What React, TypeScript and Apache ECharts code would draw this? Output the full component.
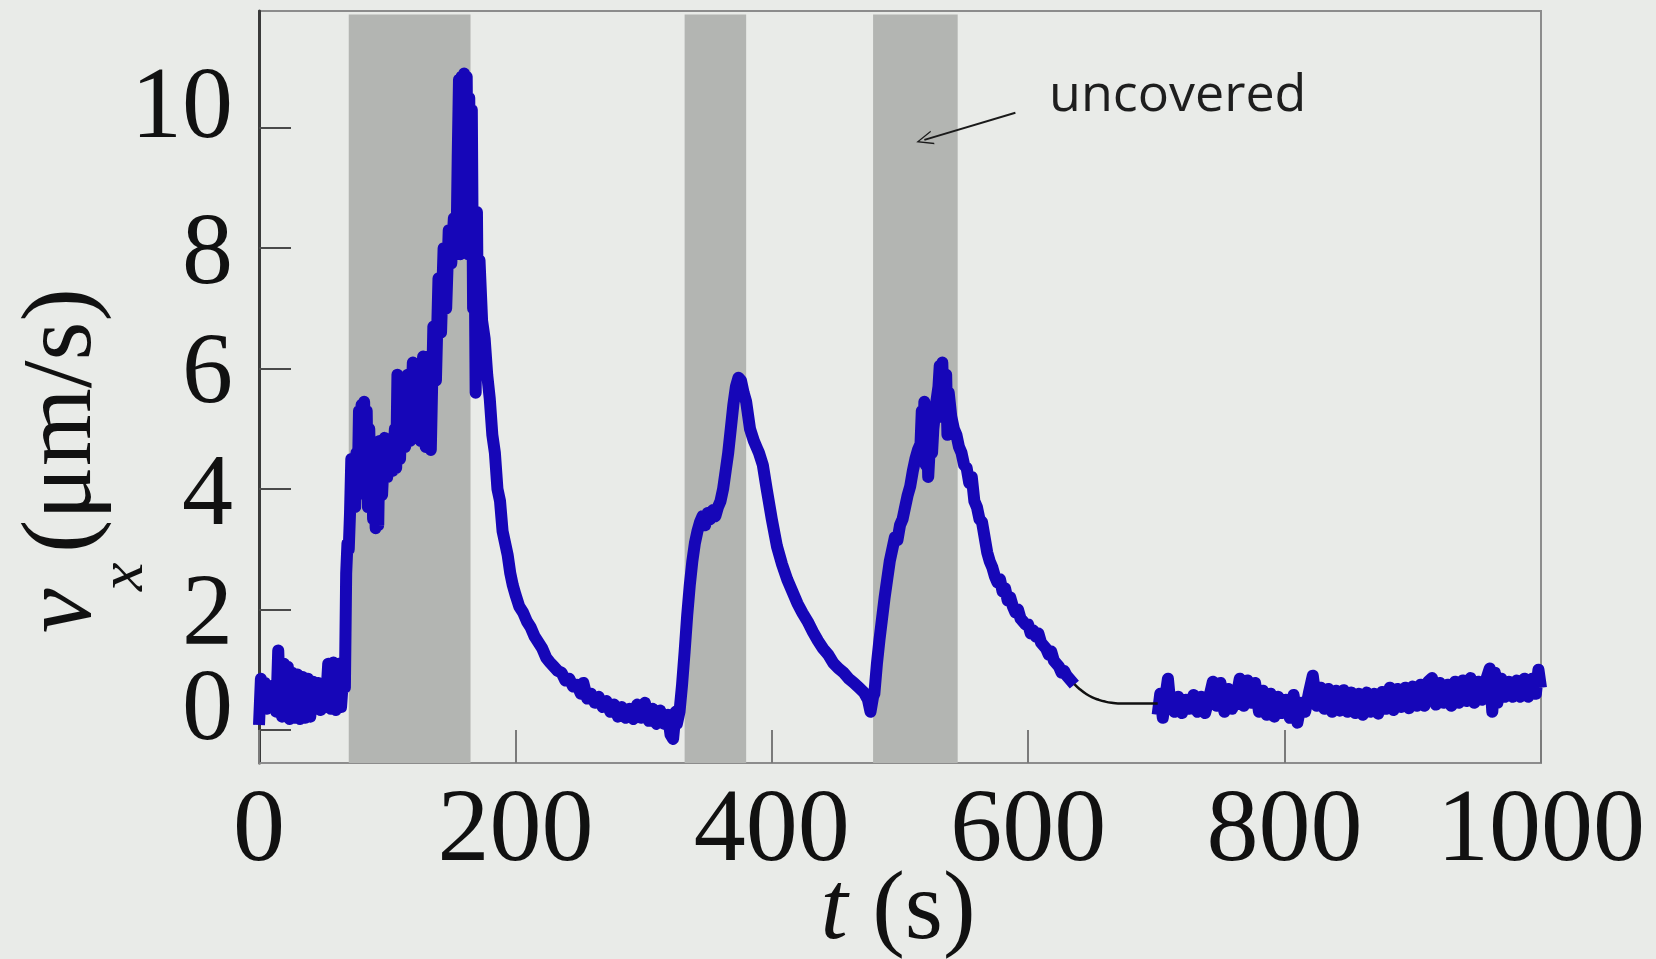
import React, { useEffect, useRef } from "react";
import * as echarts from "echarts";

// ---- data (t in s, v_x in µm/s) ----
const xTicks = [0, 200, 400, 600, 800, 1000];
const yTicks = [0, 2, 4, 6, 8, 10];
const yLabelsMid = [2, 4, 6, 8];
const yLabelsRaised = [0, 10]; // printed slightly above their ticks in the original
const bands: [number, number][] = [
  [70, 165],
  [332, 380],
  [479, 545],
];

const baseline0: [number, number][] = [
  [0, 0.08], [1.5, 0.85], [3, 0.4], [4.5, 0.78], [6, 0.35], [8, 0.72], [10, 0.4], [12, 0.75],
  [13.5, 0.3], [15, 1.32], [16.5, 0.4], [18, 0.22], [19.5, 1.1], [21, 0.25], [22.5, 1.05],
  [24, 0.18], [26, 0.95], [28, 0.2], [30, 0.92], [32, 0.18], [34, 0.88], [36, 0.2], [38, 0.85],
  [40, 0.22], [42, 0.8], [44, 0.35], [46, 0.78], [48, 0.33], [50, 0.75], [52, 0.38], [54, 1.1],
  [56, 0.35], [58, 1.12], [60, 0.33], [62, 1.1], [64, 0.38], [66, 1.0],
];

const pulse1: [number, number][] = [
  [67, 0.7], [68, 2.6], [69, 3.1], [70, 3.0], [71, 3.6], [72, 4.5], [73, 3.8], [74, 4.4],
  [75, 3.7], [76, 4.6], [77, 4.0], [78, 5.3], [79, 4.3], [80, 5.4], [81, 4.0], [82, 5.45],
  [83, 3.9], [84, 5.3], [85, 3.7], [86, 5.0], [87, 4.0], [88, 4.5], [89, 3.5], [90, 4.3],
  [91, 3.35], [92, 4.6], [93, 3.4], [94, 4.8], [96, 3.9], [98, 4.85], [100, 4.2], [102, 4.8],
  [104, 4.3], [106, 5.0], [107, 4.35], [108, 5.9], [110, 4.5], [112, 5.8], [114, 4.7],
  [116, 5.9], [118, 4.8], [120, 6.1], [122, 4.9], [124, 6.0], [126, 4.8], [128, 6.2],
  [130, 4.7], [132, 6.2], [134, 4.65], [136, 6.7], [138, 5.8], [140, 7.5], [142, 6.6],
  [144, 8.0], [146, 7.0], [148, 8.3], [150, 7.75], [152, 8.5], [154, 7.9], [155, 9.5],
  [156, 10.8], [157, 7.9], [158, 10.85], [159, 8.0], [160, 10.9], [161, 8.0], [162, 10.85],
  [163, 7.9], [164, 10.5], [165, 8.2], [166, 10.3], [167, 7.0], [168, 8.6], [169, 5.6],
  [170, 8.6], [171, 6.0], [172, 7.8], [174, 6.8], [176, 6.5], [178, 5.9], [180, 5.5],
  [182, 4.9], [184, 4.6], [186, 4.0], [188, 3.8], [190, 3.3], [192, 3.1], [194, 2.9],
  [196, 2.6], [198, 2.4],
];

const decay1: [number, number][] = [
  [200, 2.25], [203, 2.05], [206, 1.95], [209, 1.8], [212, 1.7], [215, 1.55], [218, 1.45],
  [221, 1.35], [224, 1.2], [227, 1.12], [230, 1.05], [233, 0.98], [236, 0.95], [239, 0.82],
  [242, 0.85], [245, 0.72], [248, 0.75], [251, 0.6], [253, 0.78], [256, 0.52], [259, 0.6],
  [262, 0.45], [265, 0.55], [268, 0.38], [271, 0.48], [274, 0.3], [277, 0.42], [280, 0.22],
  [283, 0.38], [286, 0.2], [289, 0.35], [292, 0.18], [295, 0.42], [298, 0.2], [301, 0.45],
  [304, 0.15], [307, 0.35], [310, 0.1], [313, 0.32], [316, 0.1], [319, 0.25], [321, -0.08],
  [323, -0.15], [325, 0.3], [326, 0.1],
];

const pulse2: [number, number][] = [
  [328, 0.3], [330, 0.75], [332, 1.3], [334, 1.9], [336, 2.4], [338, 2.8], [340, 3.1],
  [342, 3.3], [344, 3.45], [346, 3.55], [348, 3.4], [350, 3.6], [352, 3.5], [354, 3.65],
  [356, 3.55], [358, 3.7], [360, 3.8], [362, 4.0], [364, 4.3], [366, 4.6], [368, 5.0],
  [370, 5.4], [372, 5.7], [374, 5.85], [376, 5.8], [378, 5.6], [380, 5.45], [383, 5.0],
  [386, 4.8], [390, 4.6], [393, 4.4], [396, 4.0], [400, 3.5], [404, 3.05], [408, 2.75],
  [412, 2.5], [416, 2.3], [420, 2.1], [424, 1.94], [428, 1.8], [432, 1.63], [436, 1.48],
  [440, 1.35], [444, 1.25], [448, 1.11], [452, 1.02], [456, 0.95], [460, 0.85], [464, 0.78],
  [468, 0.7], [472, 0.62], [475, 0.5], [477, 0.3], [479, 0.55],
];

const pulse3: [number, number][] = [
  [480, 0.6], [482, 1.1], [484, 1.5], [486, 1.85], [488, 2.2], [490, 2.5], [492, 2.8],
  [494, 3.0], [496, 3.2], [498, 3.15], [500, 3.4], [502, 3.5], [504, 3.7], [506, 3.9],
  [508, 4.05], [510, 4.3], [512, 4.5], [514, 4.65], [516, 4.75], [517, 5.3], [518, 4.5],
  [519, 5.45], [520, 4.4], [521, 5.3], [522, 4.2], [523, 4.6], [524, 5.2], [525, 4.6],
  [526, 5.0], [528, 5.4], [530, 5.7], [531, 6.05], [532, 5.2], [533, 6.1], [534, 5.3],
  [536, 5.9], [537, 4.9], [538, 5.6], [540, 5.2], [542, 5.0], [544, 4.9], [546, 4.7],
  [548, 4.6], [550, 4.4], [552, 4.35], [554, 4.1], [556, 4.2], [558, 3.8], [560, 3.7],
  [562, 3.5], [564, 3.45], [566, 3.2], [568, 2.95], [570, 2.8], [572, 2.7], [574, 2.55],
  [576, 2.45], [578, 2.5], [580, 2.3], [582, 2.35], [584, 2.15], [586, 2.2], [588, 2.05],
  [590, 1.95], [592, 2.0], [594, 1.85], [596, 1.8], [598, 1.75], [600, 1.75], [602, 1.6],
  [604, 1.65], [606, 1.55], [608, 1.6], [610, 1.45], [612, 1.4], [614, 1.35], [616, 1.25],
  [618, 1.3], [620, 1.15], [622, 1.1], [624, 1.05], [626, 0.95], [628, 0.98], [630, 0.9],
  [632, 0.85], [634, 0.8], [636, 0.75],
];

const fitCurve: [number, number][] = [
  [636, 0.76], [640, 0.68], [645, 0.6], [650, 0.54], [655, 0.5], [660, 0.47], [665, 0.45],
  [670, 0.44], [680, 0.44], [690, 0.44], [701, 0.44],
];

const baseline2: [number, number][] = [
  [701, 0.25], [703, 0.6], [705, 0.2], [707, 0.55], [709, 0.85], [711, 0.4], [714, 0.3],
  [717, 0.55], [720, 0.28], [723, 0.5], [726, 0.35], [729, 0.58], [732, 0.3], [735, 0.55],
  [738, 0.28], [741, 0.52], [744, 0.8], [747, 0.4], [750, 0.78], [753, 0.3], [756, 0.68],
  [759, 0.35], [762, 0.5], [765, 0.85], [768, 0.4], [771, 0.82], [774, 0.45], [777, 0.78],
  [780, 0.3], [783, 0.65], [786, 0.25], [789, 0.6], [792, 0.22], [795, 0.55], [798, 0.28],
  [801, 0.5], [804, 0.2], [807, 0.58], [810, 0.12], [813, 0.45], [816, 0.3], [819, 0.62],
  [822, 0.9], [825, 0.4], [828, 0.7], [831, 0.35], [834, 0.68], [837, 0.3], [840, 0.65],
  [843, 0.32], [846, 0.66], [849, 0.3], [852, 0.62], [855, 0.28], [858, 0.6], [861, 0.25],
  [864, 0.62], [867, 0.3], [870, 0.6], [873, 0.27], [876, 0.63], [879, 0.35], [882, 0.7],
  [885, 0.33], [888, 0.68], [891, 0.38], [894, 0.7], [897, 0.36], [900, 0.72], [903, 0.4],
  [906, 0.75], [909, 0.4], [912, 0.8], [915, 0.86], [918, 0.42], [921, 0.78], [924, 0.45],
  [927, 0.75], [930, 0.4], [933, 0.8], [936, 0.45], [939, 0.82], [942, 0.48], [945, 0.86],
  [948, 0.45], [951, 0.8], [954, 0.5], [957, 0.82], [960, 1.02], [962, 0.3], [964, 0.95],
  [966, 0.45], [969, 0.85], [972, 0.55], [975, 0.8], [978, 0.55], [981, 0.82], [984, 0.55],
  [987, 0.85], [990, 0.55], [993, 0.85], [996, 0.6], [998, 1.0], [1000, 0.7],
];

// annotation arrow (data coordinates): tail, tip
const arrowTail: [number, number] = [590, 10.25];
const arrowTip: [number, number] = [519, 9.8];

const Y_MIN = -0.55;
const Y_MAX = 11.94;
const BAND_TOP = 11.88;
const LABEL_RAISE = 0.42; // the 0 and 10 labels sit ~25px above their ticks

const SERIF = "'Liberation Serif', 'DejaVu Serif', serif";
const BLUE = "#1606b8";

export default function App() {
  const ref = useRef<HTMLDivElement>(null);

  useEffect(() => {
    if (!ref.current) return;
    const chart = echarts.init(ref.current, undefined, { renderer: "svg" });

    const blueLine = {
      type: "line",
      symbol: "none",
      lineStyle: { color: BLUE, width: 12, join: "round", cap: "butt" },
      z: 3,
    };

    const yLabelStyle = {
      show: true,
      margin: 26,
      hideOverlap: false,
      fontFamily: SERIF,
      fontSize: 102,
      lineHeight: 76,
      color: "#111",
      formatter: (v: number) => String(v),
    };

    chart.setOption({
      animation: false,
      backgroundColor: "#e9ebe8",
      grid: {
        left: 259,
        right: 115,
        top: 11,
        bottom: 196,
        show: true,
        borderColor: "#8c8c8c",
        borderWidth: 2,
        backgroundColor: "transparent",
        containLabel: false,
        outerBoundsMode: "none",
      },
      xAxis: {
        type: "value",
        min: 0,
        max: 1000,
        interval: 200,
        axisLine: { show: true, onZero: false, lineStyle: { color: "#8c8c8c", width: 2 } },
        axisTick: {
          show: true,
          inside: true,
          length: 33,
          customValues: xTicks,
          lineStyle: { color: "#7a7a7a", width: 2 },
        },
        axisLabel: {
          show: true,
          margin: 23,
          hideOverlap: false,
          customValues: xTicks,
          fontFamily: SERIF,
          fontSize: 104,
          lineHeight: 76,
          color: "#111",
          formatter: (v: number) => String(v),
        },
        splitLine: { show: false },
      },
      yAxis: [
        {
          type: "value",
          min: Y_MIN,
          max: Y_MAX,
          position: "left",
          axisLine: { show: true, onZero: false, lineStyle: { color: "#3a3a3a", width: 3 } },
          axisTick: {
            show: true,
            inside: true,
            length: 32,
            customValues: yTicks,
            lineStyle: { color: "#4a4a4a", width: 2 },
          },
          axisLabel: { ...yLabelStyle, customValues: yLabelsMid },
          splitLine: { show: false },
        },
        {
          type: "value",
          min: Y_MIN - LABEL_RAISE,
          max: Y_MAX - LABEL_RAISE,
          position: "left",
          axisLine: { show: false, onZero: false },
          axisTick: { show: false },
          axisLabel: {
            ...yLabelStyle,
            showMinLabel: true,
            showMaxLabel: true,
            customValues: yLabelsRaised,
          },
          splitLine: { show: false },
        },
      ],
      series: [
        {
          ...blueLine,
          name: "vx",
          yAxisIndex: 0,
          data: [...baseline0, ...pulse1, ...decay1, ...pulse2, ...pulse3],
          markArea: {
            silent: true,
            itemStyle: { color: "#b3b5b2" },
            data: bands.map(([a, b]) => [
              { xAxis: a, yAxis: Y_MIN },
              { xAxis: b, yAxis: BAND_TOP },
            ]),
          },
          markLine: {
            silent: true,
            symbol: ["none", "path://M0,0 L10,18 L8,18 L0,3.5 L-8,18 L-10,18 Z"],
            symbolSize: [14, 17],
            label: { show: false },
            lineStyle: { color: "#1a1a1a", width: 2, type: "solid" },
            data: [[{ coord: arrowTail }, { coord: arrowTip }]],
          },
        },
        {
          ...blueLine,
          name: "vx2",
          yAxisIndex: 0,
          data: baseline2,
        },
        {
          type: "line",
          name: "fit",
          yAxisIndex: 0,
          symbol: "none",
          smooth: true,
          data: fitCurve,
          lineStyle: { color: "#111", width: 2.5 },
          z: 4,
        },
      ],
      graphic: [
        {
          type: "text",
          left: 1049,
          top: 64,
          style: {
            text: "uncovered",
            fontFamily: "'Open Sans', 'Noto Sans', sans-serif",
            fontSize: 52,
            fill: "#1e1e1e",
          },
        },
        {
          type: "text",
          x: 898,
          y: 905,
          style: {
            text: "{i|t}{r| (s)}",
            align: "center",
            verticalAlign: "middle",
            rich: {
              i: { fontFamily: SERIF, fontStyle: "italic", fontSize: 98, lineHeight: 76, fill: "#111" },
              r: { fontFamily: SERIF, fontSize: 98, lineHeight: 76, fill: "#111" },
            },
          },
        },
        {
          type: "group",
          x: 106,
          y: 633,
          rotation: Math.PI / 2,
          children: [
            {
              type: "text",
              x: 0,
              y: 0,
              style: {
                text: "v",
                fontFamily: SERIF,
                fontStyle: "italic",
                fontSize: 100,
                fill: "#111",
                align: "left",
                verticalAlign: "bottom",
              },
            },
            {
              type: "text",
              x: 42,
              y: 46,
              style: {
                text: "x",
                fontFamily: SERIF,
                fontStyle: "italic",
                fontSize: 64,
                fill: "#111",
                align: "left",
                verticalAlign: "bottom",
              },
            },
            {
              type: "text",
              x: 80,
              y: 0,
              style: {
                text: "(μm/s)",
                fontFamily: SERIF,
                fontSize: 100,
                fill: "#111",
                align: "left",
                verticalAlign: "bottom",
              },
            },
          ],
        },
      ],
    });

    return () => chart.dispose();
  }, []);

  return (
    <div
      ref={ref}
      style={{ position: "absolute", left: 0, top: 0, width: 1656, height: 959 }}
    />
  );
}
